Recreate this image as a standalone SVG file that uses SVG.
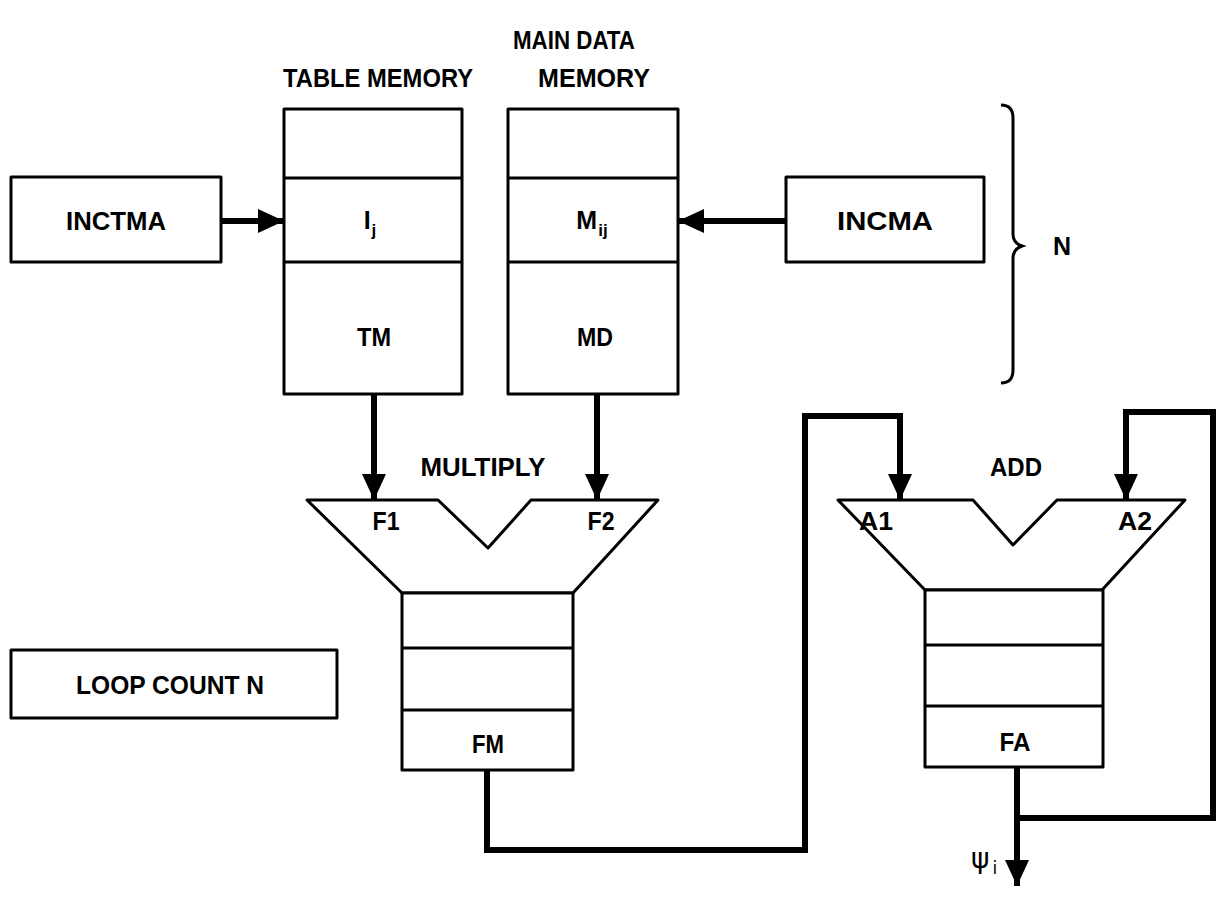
<svg xmlns="http://www.w3.org/2000/svg" width="1221" height="923" viewBox="0 0 1221 923">
<style>
.box{fill:#fff;stroke:#000;stroke-width:3;stroke-linejoin:round}
.ln{fill:none;stroke:#000;stroke-width:3}
.wire{fill:none;stroke:#000;stroke-width:6;stroke-linejoin:miter}
.t{font-family:"Liberation Sans Narrow","Liberation Sans",Arial,sans-serif;font-size:25px;font-weight:bold;fill:#000;text-anchor:middle}
.s{font-size:17px}
</style>
<defs>
<marker id="ah" markerUnits="userSpaceOnUse" markerWidth="26" markerHeight="24" viewBox="0 0 26 24" refX="26" refY="12" orient="auto">
<path d="M0,0 L26,12 L0,24 Z" fill="#000"/>
</marker>
</defs>
<rect width="1221" height="923" fill="#fff"/>

<g id="inctma">
<rect class="box" x="11" y="177" width="210" height="85"/>
<text class="t" x="116" y="230" textLength="100" lengthAdjust="spacingAndGlyphs">INCTMA</text>
</g>

<g id="table-memory">
<rect class="box" x="284" y="109" width="178" height="285"/>
<line class="ln" x1="284" y1="178" x2="462" y2="178"/>
<line class="ln" x1="284" y1="262" x2="462" y2="262"/>
<text class="t" x="370" y="229">I<tspan class="s" dx="1" dy="7">j</tspan></text>
<text class="t" x="374" y="346" textLength="34" lengthAdjust="spacingAndGlyphs">TM</text>
</g>

<g id="main-data-memory">
<rect class="box" x="508" y="109" width="170" height="285"/>
<line class="ln" x1="508" y1="178" x2="678" y2="178"/>
<line class="ln" x1="508" y1="262" x2="678" y2="262"/>
<text class="t" x="592" y="229">M<tspan class="s" dx="1" dy="7">ij</tspan></text>
<text class="t" x="595" y="346" textLength="36" lengthAdjust="spacingAndGlyphs">MD</text>
</g>

<g id="incma">
<rect class="box" x="786" y="177" width="198" height="85"/>
<text class="t" x="885" y="230" textLength="96" lengthAdjust="spacingAndGlyphs">INCMA</text>
</g>

<g id="brace">
<path class="ln" d="M1001,105 Q1013,105 1013,118 L1013,234 Q1013,243 1022,246 Q1013,249 1013,258 L1013,370 Q1013,383 1001,383"/>
<text class="t" x="1062" y="255">N</text>
</g>

<g id="multiply">
<path class="box" d="M307,500 L438,500 L488,548 L531,500 L658,500 L573,593 L402,593 Z"/>
<text class="t" x="386" y="530" textLength="27" lengthAdjust="spacingAndGlyphs">F1</text>
<text class="t" x="601" y="530" textLength="27" lengthAdjust="spacingAndGlyphs">F2</text>
</g>

<g id="fm-stack">
<rect class="box" x="402" y="593" width="171" height="177"/>
<line class="ln" x1="402" y1="648" x2="573" y2="648"/>
<line class="ln" x1="402" y1="710" x2="573" y2="710"/>
<text class="t" x="488" y="753" textLength="32" lengthAdjust="spacingAndGlyphs">FM</text>
</g>

<g id="add">
<path class="box" d="M838,500 L973,500 L1013,545 L1057,500 L1185,500 L1102,590 L925,590 Z"/>
<text class="t" x="876" y="530" textLength="34" lengthAdjust="spacingAndGlyphs">A1</text>
<text class="t" x="1135" y="530" textLength="34" lengthAdjust="spacingAndGlyphs">A2</text>
</g>

<g id="fa-stack">
<rect class="box" x="925" y="590" width="178" height="177"/>
<line class="ln" x1="925" y1="645" x2="1103" y2="645"/>
<line class="ln" x1="925" y1="706" x2="1103" y2="706"/>
<text class="t" x="1015" y="751" textLength="31" lengthAdjust="spacingAndGlyphs">FA</text>
</g>

<g id="loop-count">
<rect class="box" x="11" y="650" width="326" height="68"/>
<text class="t" x="170" y="694" textLength="188" lengthAdjust="spacingAndGlyphs">LOOP COUNT  N</text>
</g>

<g id="labels">
<text class="t" x="574" y="49" textLength="122" lengthAdjust="spacingAndGlyphs">MAIN DATA</text>
<text class="t" x="378" y="87" textLength="190" lengthAdjust="spacingAndGlyphs">TABLE MEMORY</text>
<text class="t" x="594" y="87" textLength="112" lengthAdjust="spacingAndGlyphs">MEMORY</text>
<text class="t" x="483" y="476" textLength="125" lengthAdjust="spacingAndGlyphs">MULTIPLY</text>
<text class="t" x="1016" y="476" textLength="52" lengthAdjust="spacingAndGlyphs">ADD</text>
</g>

<g id="connectors">
<line class="wire" x1="221" y1="221" x2="284" y2="221" marker-end="url(#ah)"/>
<line class="wire" x1="786" y1="221" x2="678" y2="221" marker-end="url(#ah)"/>
<line class="wire" x1="374" y1="394" x2="374" y2="500" marker-end="url(#ah)"/>
<line class="wire" x1="597" y1="394" x2="597" y2="500" marker-end="url(#ah)"/>
<path class="wire" d="M487,770 L487,850 L805,850 L805,416 L900,416 L900,500" marker-end="url(#ah)"/>
<line class="wire" x1="1017" y1="767" x2="1017" y2="886" marker-end="url(#ah)"/>
<path class="wire" d="M1017,818 L1213,818 L1213,412 L1126,412 L1126,500" marker-end="url(#ah)"/>
</g>

<g id="output-label">
<text x="984" y="868" style="font-family:'DejaVu Sans',sans-serif;font-size:28px;fill:#000;text-anchor:middle">ψ<tspan style="font-size:17px" dx="3" dy="6">i</tspan></text>
</g>
</svg>
